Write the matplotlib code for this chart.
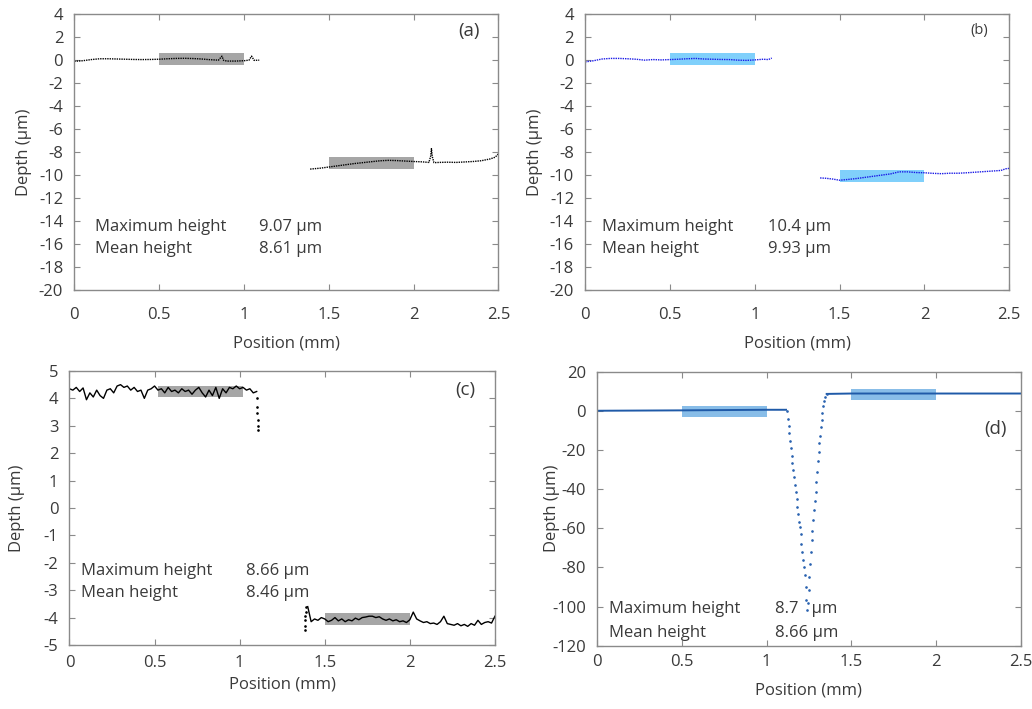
import matplotlib
matplotlib.use("Agg")
import matplotlib.pyplot as plt
from matplotlib.ticker import FuncFormatter

plt.rcParams["font.family"] = ["Open Sans", "DejaVu Sans"]
plt.rcParams["axes.unicode_minus"] = False

# ---- data ----
# (a)
a_left_x = [0.00, 0.05, 0.10, 0.15, 0.20, 0.25, 0.30, 0.35, 0.40, 0.45, 0.50, 0.55, 0.60,
            0.65, 0.70, 0.75, 0.80, 0.85, 0.87, 0.88, 0.90, 0.95, 1.00, 1.03, 1.045, 1.06, 1.09]
a_left_y = [-0.10, -0.05, 0.05, 0.12, 0.12, 0.10, 0.08, 0.06, 0.05, 0.06, 0.08, 0.12, 0.15,
            0.16, 0.14, 0.10, 0.04, 0.00, 0.35, -0.02, -0.08, -0.08, -0.05, 0.00, 0.35, -0.02, 0.00]
a_right_x = [1.39, 1.45, 1.50, 1.55, 1.60, 1.65, 1.70, 1.75, 1.80, 1.85, 1.90, 1.95, 2.00, 2.05,
             2.09, 2.10, 2.105, 2.11, 2.12, 2.15, 2.20, 2.25, 2.30, 2.35, 2.40, 2.45, 2.48, 2.50]
a_right_y = [-9.48, -9.40, -9.30, -9.20, -9.10, -9.00, -8.92, -8.84, -8.76, -8.72, -8.74, -8.78,
             -8.82, -8.85, -8.90, -8.40, -7.70, -8.40, -8.92, -8.90, -8.88, -8.90, -8.86, -8.82,
             -8.75, -8.60, -8.45, -8.15]
a_boxes = [(0.5, 1.0, -0.4, 0.6), (1.5, 2.0, -9.5, -8.45)]
a_text = ("9.07 µm", "8.61 µm")

# (b)
b_left_x = [0.00, 0.05, 0.10, 0.15, 0.20, 0.25, 0.30, 0.35, 0.40, 0.45, 0.50, 0.55, 0.60, 0.65,
            0.70, 0.75, 0.80, 0.85, 0.90, 0.95, 1.00, 1.05, 1.08, 1.10]
b_left_y = [-0.15, -0.05, 0.10, 0.15, 0.15, 0.12, 0.08, 0.00, 0.05, 0.02, 0.05, 0.08, 0.12, 0.15,
            0.10, 0.08, 0.06, 0.05, 0.00, -0.02, 0.02, 0.08, 0.05, 0.18]
b_right_x = [1.385, 1.42, 1.46, 1.50, 1.55, 1.60, 1.65, 1.70, 1.75, 1.80, 1.85, 1.90, 1.95, 2.00,
             2.05, 2.10, 2.15, 2.20, 2.25, 2.30, 2.35, 2.40, 2.45, 2.48, 2.50]
b_right_y = [-10.25, -10.28, -10.35, -10.45, -10.38, -10.30, -10.20, -10.10, -10.00, -9.90,
             -9.72, -9.72, -9.78, -9.80, -9.85, -9.88, -9.84, -9.84, -9.80, -9.75, -9.70,
             -9.65, -9.60, -9.45, -9.42]
b_boxes = [(0.5, 1.0, -0.45, 0.6), (1.5, 2.0, -10.6, -9.55)]
b_text = ("10.4 µm", "9.93 µm")

# (c)
c_top_x = [0.00, 0.02, 0.04, 0.06, 0.08, 0.10, 0.12, 0.14, 0.16, 0.18, 0.20, 0.22, 0.24, 0.26,
           0.28, 0.30, 0.32, 0.34, 0.36, 0.38, 0.40, 0.42, 0.44, 0.46, 0.48, 0.50, 0.52, 0.54,
           0.56, 0.58, 0.60, 0.62, 0.64, 0.66, 0.68, 0.70, 0.72, 0.74, 0.76, 0.78, 0.80, 0.82,
           0.84, 0.86, 0.88, 0.90, 0.92, 0.94, 0.96, 0.98, 1.00, 1.02, 1.04, 1.06, 1.08, 1.10]
c_top_y = [4.35, 4.30, 4.40, 4.25, 4.38, 3.95, 4.20, 4.05, 4.30, 4.10, 4.00, 4.30, 4.35, 4.20,
           4.45, 4.50, 4.40, 4.45, 4.30, 4.40, 4.25, 4.30, 4.00, 4.30, 4.35, 4.45, 4.30, 4.35,
           4.20, 4.40, 4.25, 4.30, 4.20, 4.35, 4.25, 4.30, 4.15, 4.30, 4.40, 4.20, 4.05, 4.30,
           4.10, 4.40, 4.00, 4.35, 4.20, 4.40, 4.35, 4.45, 4.35, 4.40, 4.30, 4.35, 4.20, 4.25]
c_drop_x = [1.100, 1.102, 1.104, 1.106, 1.108, 1.110]
c_drop_y = [4.00, 3.70, 3.45, 3.20, 3.00, 2.85]
c_rise_x = [1.383, 1.384, 1.385, 1.386, 1.387, 1.390]
c_rise_y = [-4.45, -4.30, -4.10, -3.95, -3.80, -3.60]
c_bot_x = [1.40, 1.42, 1.44, 1.46, 1.48, 1.50, 1.52, 1.54, 1.56, 1.58, 1.60, 1.62, 1.64, 1.66,
           1.68, 1.70, 1.72, 1.74, 1.76, 1.78, 1.80, 1.82, 1.84, 1.86, 1.88, 1.90, 1.92, 1.94,
           1.96, 1.98, 2.00, 2.02, 2.04, 2.06, 2.08, 2.10, 2.12, 2.14, 2.16, 2.18, 2.20, 2.22,
           2.24, 2.26, 2.28, 2.30, 2.32, 2.34, 2.36, 2.38, 2.40, 2.42, 2.44, 2.46, 2.48, 2.50]
c_bot_y = [-3.60, -4.15, -4.05, -4.10, -4.00, -4.05, -4.15, -4.10, -4.00, -4.12, -4.05, -4.15,
           -4.08, -4.12, -4.02, -4.08, -4.00, -3.98, -3.95, -3.95, -4.00, -3.97, -4.05, -4.10,
           -4.05, -4.12, -4.08, -4.15, -4.12, -4.18, -4.08, -3.80, -4.05, -4.12, -4.18, -4.15,
           -4.22, -4.20, -4.25, -4.15, -3.95, -4.22, -4.25, -4.28, -4.22, -4.30, -4.25, -4.32,
           -4.22, -4.28, -4.10, -4.25, -4.18, -4.15, -4.20, -3.95]
c_boxes = [(0.52, 1.02, 4.04, 4.46), (1.5, 2.0, -4.27, -3.83)]
c_text = ("8.66 µm", "8.46 µm")

# (d)
d_left_x = [0.0, 0.5, 1.0, 1.115]
d_left_y = [0.0, 0.2, 0.5, 0.5]
d_right_x = [1.355, 1.5, 2.0, 2.5]
d_right_y = [8.6, 8.8, 8.8, 8.8]
d_valley_x = [1.119, 1.125, 1.131, 1.135, 1.139, 1.145, 1.149, 1.152, 1.158, 1.162, 1.168, 1.172,
              1.178, 1.182, 1.186, 1.192, 1.196, 1.202, 1.205, 1.211, 1.217, 1.221, 1.225, 1.231,
              1.235, 1.237, 1.245, 1.249, 1.253, 1.257, 1.263, 1.267, 1.270, 1.276, 1.280, 1.284,
              1.290, 1.294, 1.298, 1.304, 1.308, 1.312, 1.317, 1.322, 1.326, 1.329, 1.335, 1.341,
              1.347, 1.355]
d_valley_y = [-0.3, -4.2, -7.6, -11.5, -15.3, -19.2, -23.1, -26.8, -30.2, -33.9, -37.7, -41.6,
              -44.9, -49.2, -52.9, -56.8, -59.4, -63.1, -67.8, -72.1, -76.3, -79.7, -84.0, -89.9,
              -96.7, -101.8, -98.4, -91.6, -84.8, -78.4, -72.1, -66.2, -61.4, -56.0, -50.9, -46.2,
              -41.6, -36.5, -31.4, -25.8, -21.2, -16.6, -12.7, -8.1, -4.7, -0.9, 2.5, 5.1, 7.1, 8.5]
d_boxes = [(0.5, 1.0, -3.4, 2.5), (1.5, 2.0, 5.4, 11.0)]
d_text = ("8.7   µm", "8.66 µm")

TXT = "#3a3a3a"
SPINE = "#8a8a8a"
GRAY_BOX = "#a6a6a6"
FS = 12

fig = plt.figure(figsize=(10.32, 7.09), dpi=100)
ax_a = fig.add_axes([0.072, 0.591, 0.411, 0.389])
ax_b = fig.add_axes([0.567, 0.591, 0.411, 0.389])
ax_c = fig.add_axes([0.0673, 0.0903, 0.4123, 0.3865])
ax_d = fig.add_axes([0.5785, 0.0892, 0.4106, 0.3867])


def style(ax, ylim, yticks, xpad, xlabpad, ylabpad):
    ax.set_xlim(0, 2.5)
    ax.set_ylim(*ylim)
    ax.set_xticks([0, 0.5, 1, 1.5, 2, 2.5])
    ax.set_yticks(yticks)
    ax.xaxis.set_major_formatter(FuncFormatter(lambda v, p: "%g" % v))
    ax.yaxis.set_major_formatter(FuncFormatter(lambda v, p: "%g" % v))
    ax.tick_params(direction="in", top=True, right=True, length=4, width=0.8,
                   color=SPINE, labelcolor=TXT, labelsize=FS)
    ax.tick_params(axis="x", pad=xpad)
    ax.tick_params(axis="y", pad=8)
    for s in ax.spines.values():
        s.set_color(SPINE)
        s.set_linewidth(1.0)
    ax.set_xlabel("Position (mm)", fontsize=FS, color=TXT, labelpad=xlabpad)
    ax.set_ylabel("Depth (µm)", fontsize=FS, color=TXT, labelpad=ylabpad)


def boxes(ax, bx, color):
    for x0, x1, y0, y1 in bx:
        ax.fill_between([x0, x1], y0, y1, color=color, lw=0, zorder=1)


def texts(ax, xl, xv, y1, y2, vals):
    ax.text(xl, y1, "Maximum height", fontsize=FS, color=TXT, va="center")
    ax.text(xl, y2, "Mean height", fontsize=FS, color=TXT, va="center")
    ax.text(xv, y1, vals[0], fontsize=FS, color=TXT, va="center")
    ax.text(xv, y2, vals[1], fontsize=FS, color=TXT, va="center")


# (a)
style(ax_a, (-20, 4), range(-20, 5, 2), 12, 9, 5)
boxes(ax_a, a_boxes, GRAY_BOX)
for xs, ys in [(a_left_x, a_left_y), (a_right_x, a_right_y)]:
    ax_a.plot(xs, ys, color="black", lw=1.0, ls=(0, (1, 0.7)), zorder=2)
texts(ax_a, 0.12, 1.09, -14.5, -16.4, a_text)
ax_a.text(0.93, 0.94, "(a)", transform=ax_a.transAxes, fontsize=13.5, color=TXT, ha="center", va="center")

# (b)
style(ax_b, (-20, 4), range(-20, 5, 2), 12, 9, 5)
boxes(ax_b, b_boxes, "#80d0fb")
for xs, ys in [(b_left_x, b_left_y), (b_right_x, b_right_y)]:
    ax_b.plot(xs, ys, color="#1a1ae6", lw=1.0, ls=(0, (1, 0.7)), zorder=2)
texts(ax_b, 0.10, 1.08, -14.5, -16.4, b_text)
ax_b.text(0.93, 0.94, "(b)", transform=ax_b.transAxes, fontsize=10.5, color=TXT, ha="center", va="center")

# (c)
style(ax_c, (-5, 5), range(-5, 6, 1), 7, 4, 13)
boxes(ax_c, c_boxes, GRAY_BOX)
ax_c.plot(c_top_x, c_top_y, color="black", lw=1.0, zorder=2)
ax_c.plot(c_bot_x, c_bot_y, color="black", lw=1.0, zorder=2)
ax_c.plot(c_drop_x, c_drop_y, "o", color="black", ms=0.9, zorder=2)
ax_c.plot(c_rise_x, c_rise_y, "o", color="black", ms=0.9, zorder=2)
texts(ax_c, 0.07, 1.04, -2.3, -3.1, c_text)
ax_c.text(0.93, 0.93, "(c)", transform=ax_c.transAxes, fontsize=13.5, color=TXT, ha="center", va="center")

# (d)
style(ax_d, (-120, 20), range(-120, 21, 20), 6, 9, -6)
boxes(ax_d, d_boxes, "#88bde8")
ax_d.plot(d_left_x, d_left_y, color="#1f5aa8", lw=1.4, zorder=2)
ax_d.plot(d_right_x, d_right_y, color="#1f5aa8", lw=1.4, zorder=2)
ax_d.plot(d_valley_x, d_valley_y, "o", color="#2a62b0", ms=0.9, zorder=2)
texts(ax_d, 0.07, 1.05, -101.4, -113.6, d_text)
ax_d.text(0.94, 0.79, "(d)", transform=ax_d.transAxes, fontsize=13.5, color=TXT, ha="center", va="center")

fig.savefig("out.png", dpi=100)
